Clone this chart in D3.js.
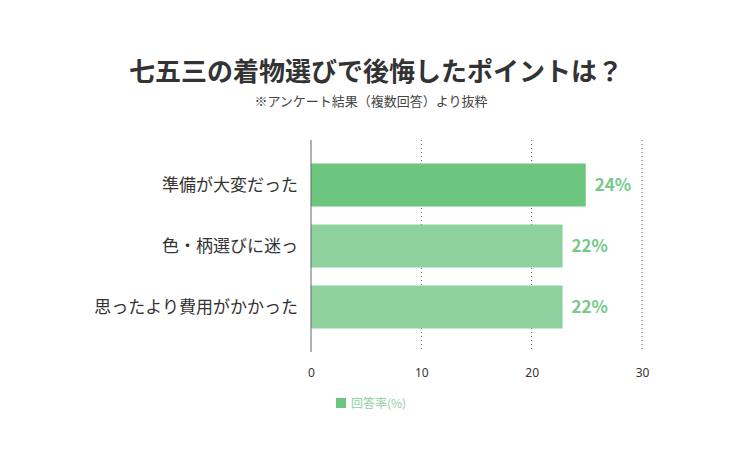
<!DOCTYPE html>
<html>
<head>
<meta charset="utf-8">
<script src="https://cdn.jsdelivr.net/npm/d3@7"></script>
<style>
  body { margin: 0; background: #fff; font-family: "Noto Sans CJK JP", "Noto Sans", sans-serif; }
</style>
</head>
<body>
<div id="container"></div>
<script>
const categories = ["準備が大変だった", "色・柄選びに迷っ", "思ったより費用がかかった"];
const values = [24.9, 22.8, 22.8];
const valueLabels = ["24%", "22%", "22%"];
const xTicks = [0, 10, 20, 30];
const barColors = ["#6cc67f", "#8fd19e", "#8fd19e"];

const W = 750, H = 450;
const margin = {top: 140, right: 108, bottom: 98, left: 311};
const width = W - margin.left - margin.right,
      height = H - margin.top - margin.bottom;

const svg = d3.select("#container").append("svg")
    .attr("width", W).attr("height", H);

svg.append("text").attr("x", 376).attr("y", 81).attr("text-anchor", "middle")
    .style("font-size", "26px").style("font-weight", "bold").attr("fill", "#333")
    .text("七五三の着物選びで後悔したポイントは？");
svg.append("text").attr("x", 371).attr("y", 106).attr("text-anchor", "middle")
    .style("font-size", "13px").attr("fill", "#444")
    .text("※アンケート結果（複数回答）より抜粋");

const g = svg.append("g").attr("transform", `translate(${margin.left},${margin.top})`);

const x = d3.scaleLinear().domain([0, 30]).range([0, width]);
const y = d3.scaleBand().domain(categories).range([0, height]).paddingInner(0.295).paddingOuter(0.385);

// dotted grid
g.selectAll(".grid").data(xTicks.slice(1)).join("line")
    .attr("x1", d => x(d)).attr("x2", d => x(d))
    .attr("y1", 0).attr("y2", height)
    .attr("stroke", "#555").attr("stroke-width", 1).attr("stroke-dasharray", "1,3");

g.selectAll(".bar").data(values).join("rect")
    .attr("x", 0).attr("y", (d, i) => y(categories[i]))
    .attr("width", d => x(d)).attr("height", y.bandwidth())
    .attr("fill", (d, i) => barColors[i]);

g.append("line").attr("x1", 0).attr("x2", 0).attr("y1", 0).attr("y2", height)
    .attr("stroke", "#666");

g.selectAll(".val").data(values).join("text")
    .attr("x", d => x(d) + 9).attr("y", (d, i) => y(categories[i]) + y.bandwidth() / 2 + 6)
    .style("font-size", "17px").style("font-weight", "bold").attr("fill", "#77c98b")
    .text((d, i) => valueLabels[i]);

g.selectAll(".cat").data(categories).join("text")
    .attr("x", -13).attr("y", d => y(d) + y.bandwidth() / 2 + 6)
    .attr("text-anchor", "end").style("font-size", "17px").attr("fill", "#333")
    .text(d => d);

const ax = g.append("g").attr("transform", `translate(0,${height})`)
    .call(d3.axisBottom(x).tickValues(xTicks).tickSize(0).tickPadding(16));
ax.select(".domain").remove();
ax.selectAll("text").style("font-size", "12px").attr("fill", "#333")
    .style("font-family", "Noto Sans, sans-serif");

const leg = svg.append("g").attr("transform", "translate(336,398)");
leg.append("rect").attr("width", 10).attr("height", 10).attr("fill", "#6cc67f");
leg.append("text").attr("x", 15).attr("y", 10).style("font-size", "12px")
    .attr("fill", "#8fcf9e").text("回答率(%)");
</script>
</body>
</html>
